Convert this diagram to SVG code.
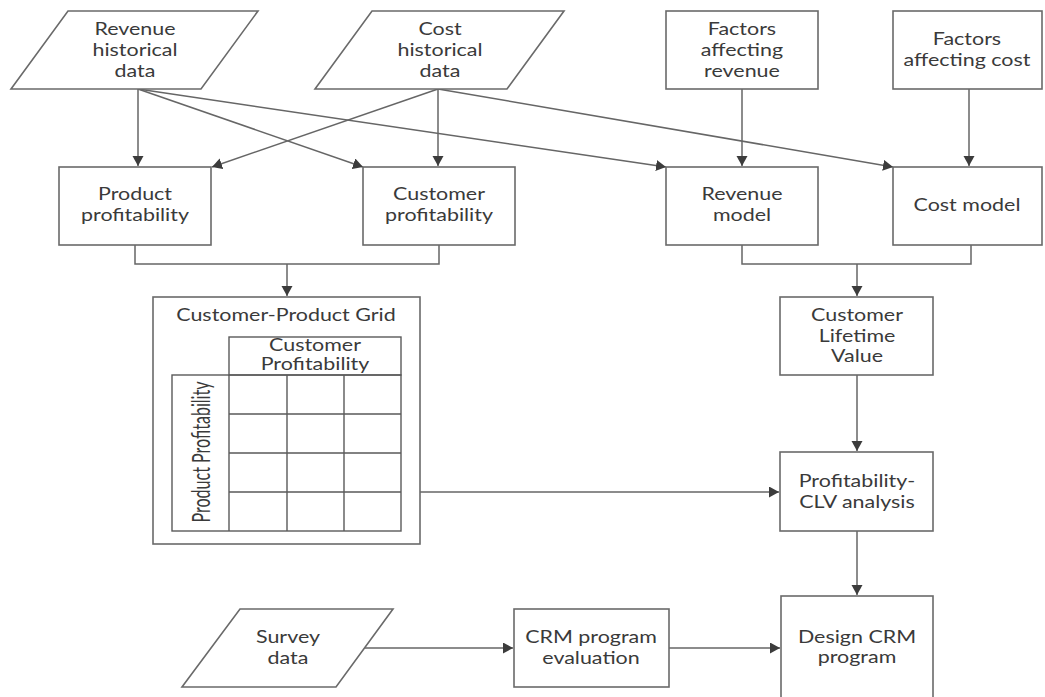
<svg xmlns="http://www.w3.org/2000/svg" width="1045" height="697" viewBox="0 0 1045 697">
<style>
.n{fill:#fff;stroke:#6a6a6a;stroke-width:1.6}
.g{fill:none;stroke:#5a5a5a;stroke-width:1.4}
.t{font-family:Lato,"Liberation Sans",sans-serif;font-size:16.5px;fill:#3a3a3a;text-anchor:middle}
.c{fill:none;stroke:#666;stroke-width:1.5}
</style>
<defs>
<marker id="ah" markerUnits="userSpaceOnUse" markerWidth="12" markerHeight="12" refX="10" refY="5.5" orient="auto">
<path d="M0,0 L10,5.5 L0,11 z" fill="#3c3c3c"/>
</marker>
</defs>
<rect width="1045" height="697" fill="#fff"/>
<g id="connectors">
<line class="c" x1="138" y1="89" x2="138" y2="166" marker-end="url(#ah)"/>
<line class="c" x1="138" y1="89" x2="363" y2="167" marker-end="url(#ah)"/>
<line class="c" x1="138" y1="89" x2="666" y2="167" marker-end="url(#ah)"/>
<line class="c" x1="438" y1="89" x2="212" y2="167" marker-end="url(#ah)"/>
<line class="c" x1="438" y1="89" x2="438" y2="166" marker-end="url(#ah)"/>
<line class="c" x1="438" y1="89" x2="893" y2="167" marker-end="url(#ah)"/>
<line class="c" x1="742" y1="89" x2="742" y2="166" marker-end="url(#ah)"/>
<line class="c" x1="969" y1="89" x2="969" y2="166" marker-end="url(#ah)"/>
<polyline class="c" points="135,245 135,264 439,264 439,245"/>
<line class="c" x1="287" y1="264" x2="287" y2="296" marker-end="url(#ah)"/>
<polyline class="c" points="742,245 742,264 971,264 971,245"/>
<line class="c" x1="857" y1="264" x2="857" y2="296" marker-end="url(#ah)"/>
<line class="c" x1="857" y1="375" x2="857" y2="451" marker-end="url(#ah)"/>
<line class="c" x1="420" y1="492" x2="779" y2="492" marker-end="url(#ah)"/>
<line class="c" x1="857" y1="531" x2="857" y2="595" marker-end="url(#ah)"/>
<line class="c" x1="364" y1="648" x2="513" y2="648" marker-end="url(#ah)"/>
<line class="c" x1="669" y1="648" x2="780" y2="648" marker-end="url(#ah)"/>
</g>
<g id="revenue-historical-data">
<polygon class="n" points="68,11 258,11 201,89 11,89"/>
<text class="t" transform="translate(135 0) scale(1.3 1)"><tspan x="0" y="35">Revenue</tspan><tspan x="0" y="56">historical</tspan><tspan x="0" y="77">data</tspan></text>
</g>
<g id="cost-historical-data">
<polygon class="n" points="372,11 564,11 507,89 315,89"/>
<text class="t" transform="translate(440 0) scale(1.3 1)"><tspan x="0" y="35">Cost</tspan><tspan x="0" y="56">historical</tspan><tspan x="0" y="77">data</tspan></text>
</g>
<g id="factors-revenue">
<rect class="n" x="666" y="11" width="152" height="78"/>
<text class="t" transform="translate(742 0) scale(1.3 1)"><tspan x="0" y="35">Factors</tspan><tspan x="0" y="56">affecting</tspan><tspan x="0" y="77">revenue</tspan></text>
</g>
<g id="factors-cost">
<rect class="n" x="893" y="11" width="149" height="78"/>
<text class="t" transform="translate(967 0) scale(1.3 1)"><tspan x="0" y="45">Factors</tspan><tspan x="0" y="66">affecting cost</tspan></text>
</g>
<g id="product-profitability">
<rect class="n" x="59" y="167" width="152" height="78"/>
<text class="t" transform="translate(135 0) scale(1.3 1)"><tspan x="0" y="200">Product</tspan><tspan x="0" y="221">profitability</tspan></text>
</g>
<g id="customer-profitability">
<rect class="n" x="363" y="167" width="152" height="78"/>
<text class="t" transform="translate(439 0) scale(1.3 1)"><tspan x="0" y="200">Customer</tspan><tspan x="0" y="221">profitability</tspan></text>
</g>
<g id="revenue-model">
<rect class="n" x="666" y="167" width="152" height="78"/>
<text class="t" transform="translate(742 0) scale(1.3 1)"><tspan x="0" y="200">Revenue</tspan><tspan x="0" y="221">model</tspan></text>
</g>
<g id="cost-model">
<rect class="n" x="893" y="167" width="149" height="78"/>
<text class="t" transform="translate(967 0) scale(1.3 1)"><tspan x="0" y="211">Cost model</tspan></text>
</g>
<g id="customer-product-grid">
<rect class="n" x="153" y="297" width="267" height="247"/>
<text class="t" transform="translate(286 0) scale(1.3 1)"><tspan x="0" y="321">Customer-Product Grid</tspan></text>
<rect class="g" x="229" y="337" width="172" height="38"/>
<text class="t" transform="translate(315 0) scale(1.3 1)"><tspan x="0" y="351">Customer</tspan><tspan x="0" y="370">Profitability</tspan></text>
<rect class="g" x="172" y="375" width="229" height="156"/>
<path class="g" d="M229,375V531M287,375V531M344,375V531M229,414H401M229,453H401M229,492H401"/>
<text class="t" transform="translate(200 452) scale(1.55 1) rotate(-90)" x="0" y="0" dominant-baseline="central" textLength="141" lengthAdjust="spacingAndGlyphs">Product Profitability</text>
</g>
<g id="customer-lifetime-value">
<rect class="n" x="780" y="297" width="153" height="78"/>
<text class="t" transform="translate(857 0) scale(1.3 1)"><tspan x="0" y="321">Customer</tspan><tspan x="0" y="342">Lifetime</tspan><tspan x="0" y="362">Value</tspan></text>
</g>
<g id="profitability-clv-analysis">
<rect class="n" x="780" y="452" width="153" height="79"/>
<text class="t" transform="translate(857 0) scale(1.3 1)"><tspan x="0" y="487">Profitability-</tspan><tspan x="0" y="508">CLV analysis</tspan></text>
</g>
<g id="survey-data">
<polygon class="n" points="240,609 393,609 336,687 182,687"/>
<text class="t" transform="translate(288 0) scale(1.3 1)"><tspan x="0" y="643">Survey</tspan><tspan x="0" y="664">data</tspan></text>
</g>
<g id="crm-program-evaluation">
<rect class="n" x="514" y="609" width="155" height="78"/>
<text class="t" transform="translate(591 0) scale(1.3 1)"><tspan x="0" y="643">CRM program</tspan><tspan x="0" y="664">evaluation</tspan></text>
</g>
<g id="design-crm-program">
<rect class="n" x="781" y="596" width="152" height="110"/>
<text class="t" transform="translate(857 0) scale(1.3 1)"><tspan x="0" y="643">Design CRM</tspan><tspan x="0" y="663">program</tspan></text>
</g>
</svg>
